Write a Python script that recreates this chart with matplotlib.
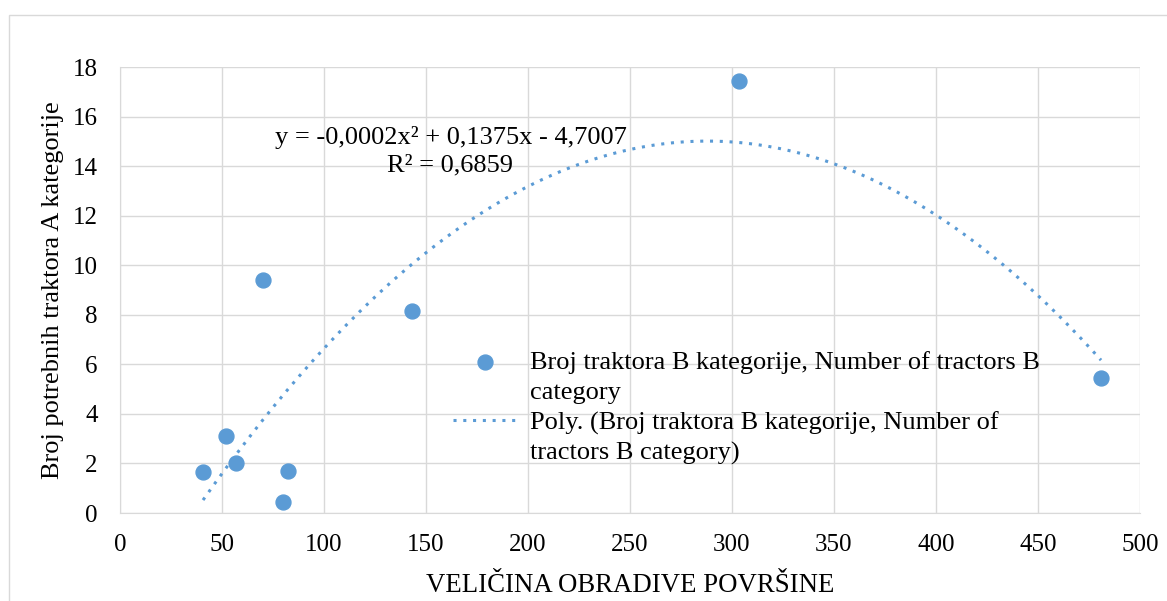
import numpy as np
import matplotlib
matplotlib.use('Agg')
from matplotlib import pyplot as plt
from matplotlib.lines import Line2D

# podaci (procjena sa slike)
povrsina = [40.7, 52, 56.9, 70.1, 79.9, 82.4, 143.1, 303.4, 480.9]
traktori = [1.67, 3.12, 2.0, 9.42, 0.46, 1.69, 8.17, 17.42, 5.43]
x_ticks = [0, 50, 100, 150, 200, 250, 300, 350, 400, 450, 500]
y_ticks = [0, 2, 4, 6, 8, 10, 12, 14, 16, 18]

plt.rcParams['font.family'] = ['Liberation Serif', 'DejaVu Serif']
blue = '#5B9BD5'

fig = plt.figure(figsize=(11.67, 6.01), dpi=100)
# okvir oko grafikona
fig.patches.append(plt.Rectangle((0.008, -0.01), 1.0, 0.985, transform=fig.transFigure,
                                 fill=False, edgecolor='#d9d9d9', linewidth=1))
ax = fig.add_axes([120 / 1167, 1 - 513 / 601, 1020 / 1167, 446 / 601])

pts = ax.scatter(povrsina, traktori, s=115, color=blue, zorder=3)

# polinomski trend 2. reda
coef = np.polyfit(povrsina, traktori, 2)
xs = np.linspace(min(povrsina), max(povrsina), 300)
trend, = ax.plot(xs, np.polyval(coef, xs), color=blue, linestyle=(0, (1, 2.2)),
                 linewidth=2.2)

ax.set_xlim(0, 500)
ax.set_ylim(0, 18)
ax.set_xticks(x_ticks)
ax.set_yticks(y_ticks)
ax.grid(True, color='#d9d9d9', linewidth=1)
ax.set_axisbelow(True)
for s in ['top', 'right']:
    ax.spines[s].set_visible(False)
for s in ['left', 'bottom']:
    ax.spines[s].set_color('#d9d9d9')
ax.tick_params(length=0, labelsize=18)
ax.tick_params(axis='x', pad=15)
ax.tick_params(axis='y', pad=16)
ax.set_xlabel('VELIČINA OBRADIVE POVRŠINE', fontsize=19.3, labelpad=12)
ax.set_ylabel('Broj potrebnih traktora A kategorije', fontsize=19, labelpad=6)

ax.text(162, 14.6, 'y = -0,0002x² + 0,1375x - 4,7007\nR² = 0,6859', fontsize=19,
        ha='center', va='center', linespacing=1.35)

# legenda: svaki red posebno, da oznaka stoji uz prvi red teksta
blank = Line2D([], [], color='none')
handles = [pts, blank, trend, blank]
labels = ['Broj traktora B kategorije, Number of tractors B', 'category',
          'Poly. (Broj traktora B kategorije, Number of', 'tractors B category)']
ax.legend(handles, labels, loc='upper left', bbox_to_anchor=(0.3265, 0.364),
          frameon=False, fontsize=19, handlelength=2.4, handletextpad=0.5,
          labelspacing=0.25, borderpad=0, borderaxespad=0)

fig.savefig('out.png', dpi=100)
